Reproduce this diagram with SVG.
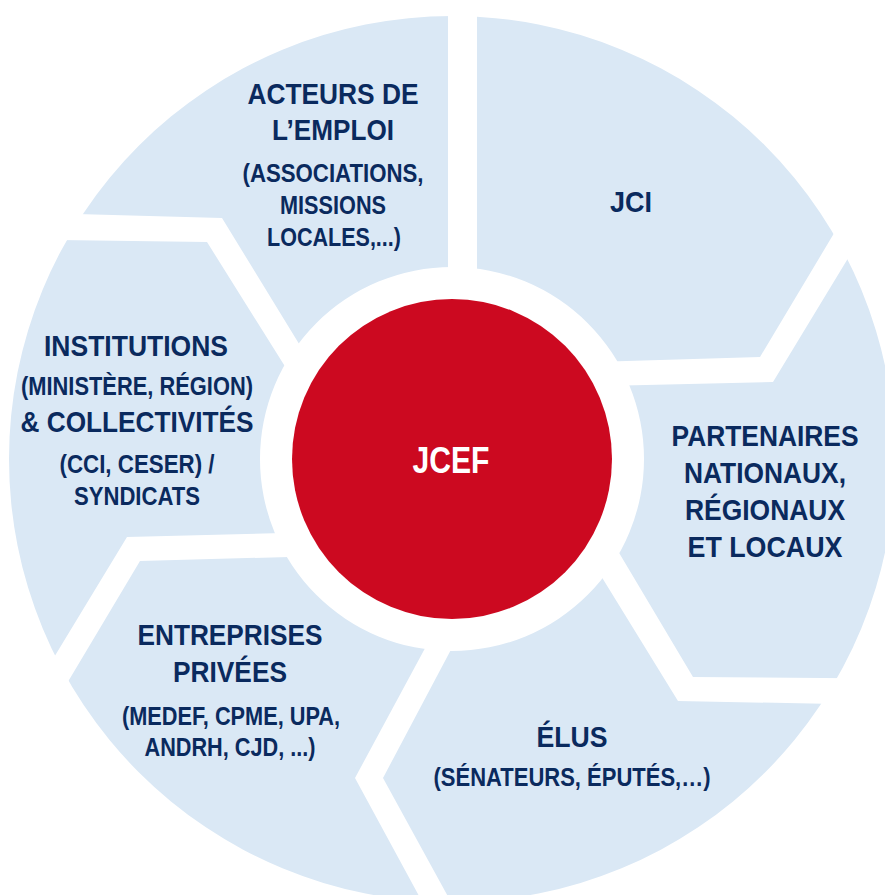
<svg xmlns="http://www.w3.org/2000/svg" width="885" height="895" viewBox="0 0 885 895">
  <style>
    .seg { fill: #DAE8F5; }
    .t { font-family: "Liberation Sans", Arial, sans-serif; font-weight: bold; fill: #0A2A5E; text-anchor: middle; }
    .big { font-size: 30px; }
    .small { font-size: 25px; }
    .center { font-family: "Liberation Sans", Arial, sans-serif; font-weight: bold; fill: #FFFFFF; text-anchor: middle; font-size: 37px; }
  </style>
  <defs>
    <clipPath id="ring">
      <path clip-rule="evenodd" d="M9,459 A443,443 0 1 0 895,459 A443,443 0 1 0 9,459 Z M260,459 A192,192 0 1 0 644,459 A192,192 0 1 0 260,459 Z"/>
    </clipPath>
  </defs>
  <rect x="0" y="0" width="885" height="895" fill="#FFFFFF"/>

  <g id="acteurs">
    <polygon class="seg" clip-path="url(#ring)" points="448,-20 448,400 334,401 222,218 0,212 -20,212 -20,-20"/>
    <text class="t big" x="333" y="104" textLength="171" lengthAdjust="spacingAndGlyphs">ACTEURS DE</text>
    <text class="t big" x="333" y="140" textLength="122" lengthAdjust="spacingAndGlyphs">L’EMPLOI</text>
    <text class="t small" x="333" y="182" textLength="181" lengthAdjust="spacingAndGlyphs">(ASSOCIATIONS,</text>
    <text class="t small" x="333" y="214" textLength="106" lengthAdjust="spacingAndGlyphs">MISSIONS</text>
    <text class="t small" x="334" y="246" textLength="134" lengthAdjust="spacingAndGlyphs">LOCALES,...)</text>
  </g>

  <g id="jci">
    <polygon class="seg" clip-path="url(#ring)" points="477,-20 477,400 560,363 760,357 906,113 920,-20"/>
    <text class="t big" x="631" y="212" textLength="42" lengthAdjust="spacingAndGlyphs">JCI</text>
  </g>

  <g id="partenaires">
    <polygon class="seg" clip-path="url(#ring)" points="560,387 773,382 921,138 940,138 940,679 693,677 562,457"/>
    <text class="t big" x="765" y="446" textLength="187" lengthAdjust="spacingAndGlyphs">PARTENAIRES</text>
    <text class="t big" x="765" y="483" textLength="162" lengthAdjust="spacingAndGlyphs">NATIONAUX,</text>
    <text class="t big" x="765" y="520" textLength="160" lengthAdjust="spacingAndGlyphs">RÉGIONAUX</text>
    <text class="t big" x="765" y="557" textLength="155" lengthAdjust="spacingAndGlyphs">ET LOCAUX</text>
  </g>

  <g id="elus">
    <polygon class="seg" clip-path="url(#ring)" points="550,493 678,701 940,706 940,960 479,953 383,778 490,576"/>
    <text class="t big" x="572" y="747" textLength="71" lengthAdjust="spacingAndGlyphs">ÉLUS</text>
    <text class="t small" x="572" y="786" textLength="277" lengthAdjust="spacingAndGlyphs">(SÉNATEURS, ÉPUTÉS,…)</text>
  </g>

  <g id="entreprises">
    <polygon class="seg" clip-path="url(#ring)" points="360,555 140,561 32,742 200,960 450,953 355,778 464,576"/>
    <text class="t big" x="230" y="645" textLength="185" lengthAdjust="spacingAndGlyphs">ENTREPRISES</text>
    <text class="t big" x="230" y="682" textLength="114" lengthAdjust="spacingAndGlyphs">PRIVÉES</text>
    <text class="t small" x="231" y="725" textLength="218" lengthAdjust="spacingAndGlyphs">(MEDEF, CPME, UPA,</text>
    <text class="t small" x="230" y="756" textLength="171" lengthAdjust="spacingAndGlyphs">ANDRH, CJD, ...)</text>
  </g>

  <g id="institutions">
    <polygon class="seg" clip-path="url(#ring)" points="-20,239 207,242 328,435 359,531 127,537 19,715 -20,715"/>
    <text class="t big" x="136" y="356" textLength="184" lengthAdjust="spacingAndGlyphs">INSTITUTIONS</text>
    <text class="t small" x="137" y="395" textLength="232" lengthAdjust="spacingAndGlyphs">(MINISTÈRE, RÉGION)</text>
    <text class="t big" x="137" y="432" textLength="233" lengthAdjust="spacingAndGlyphs">&amp; COLLECTIVITÉS</text>
    <text class="t small" x="137" y="473" textLength="155" lengthAdjust="spacingAndGlyphs">(CCI, CESER) /</text>
    <text class="t small" x="137" y="505" textLength="126" lengthAdjust="spacingAndGlyphs">SYNDICATS</text>
  </g>

  <g id="jcef">
    <circle cx="452" cy="459" r="160" fill="#CC0920"/>
    <text class="center" x="451" y="473" textLength="77" lengthAdjust="spacingAndGlyphs">JCEF</text>
  </g>

  <g id="connectors"></g>
</svg>
